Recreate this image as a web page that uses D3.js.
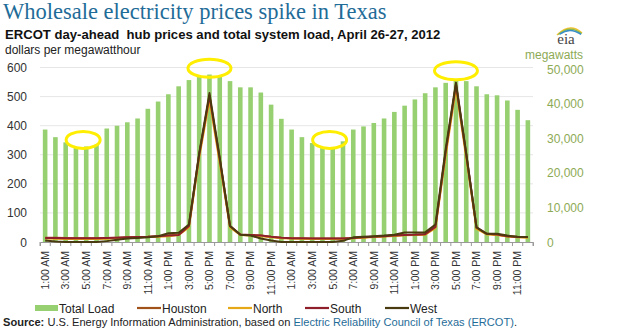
<!DOCTYPE html>
<html><head><meta charset="utf-8">
<script src="https://cdnjs.cloudflare.com/ajax/libs/d3/7.8.5/d3.min.js"></script>
<style>
html,body{margin:0;padding:0;background:#fff;}
svg{display:block;}
</style></head>
<body>
<svg id="c" width="635" height="331"></svg>
<script>
// ---- data ----
const dayHours = ["1:00 AM","2:00 AM","3:00 AM","4:00 AM","5:00 AM","6:00 AM","7:00 AM","8:00 AM","9:00 AM","10:00 AM","11:00 AM","12:00 PM",
  "1:00 PM","2:00 PM","3:00 PM","4:00 PM","5:00 PM","6:00 PM","7:00 PM","8:00 PM","9:00 PM","10:00 PM","11:00 PM","12:00 AM"];
const categories = dayHours.concat(dayHours).map((h,i)=> (i<24?"Apr 26 ":"Apr 27 ")+h);
const hourLabels = dayHours.concat(dayHours);
const totalLoad = [32500,30300,28800,27400,27600,28100,32800,33600,34600,35700,38500,40600,42700,45000,46800,47900,48400,47900,46500,44700,44700,43200,39700,35600,
  32500,30300,28600,27400,27200,29100,32500,33400,34400,35700,37600,39400,41200,43000,44700,46000,47000,46500,45000,42700,42400,40900,38200,35200];
const houston = [15,15,14,13,13,13,14,15,16,17,18,20,22,25,55,300,500,282,55,25,24,22,18,15,
  13,12,12,12,12,12,14,16,18,20,22,24,25,27,52,310,540,300,48,28,26,20,17,16];
const north = [12,11,10,10,10,10,11,13,15,16,17,18,20,24,50,290,488,272,50,24,22,20,16,13,
  12,11,10,10,10,10,13,15,17,19,21,23,24,25,48,298,528,290,45,26,24,19,16,15];
const south = [14,14,13,13,13,13,14,15,16,17,18,20,22,24,55,300,503,285,55,26,24,22,18,15,
  13,13,12,12,12,12,14,16,18,20,22,24,25,27,52,310,543,300,50,28,26,20,17,17];
const west = [5,2,0,0,0,0,3,8,12,14,16,20,30,32,60,305,512,290,55,25,22,12,5,0,
  0,0,0,0,0,4,16,18,20,22,25,33,33,33,60,320,548,305,50,28,28,22,18,17];
const priceTicks = [0,100,200,300,400,500,600];
const loadTicks = [0,10000,20000,30000,40000,50000];
const annotations = [{pos:3.7,load:29500},{pos:16,load:50200},{pos:27.7,load:29500},{pos:40,load:49500}];
const seriesNames = ["Houston","North","South","West"];
const seriesColors = ["#A0521A","#E6A817","#8E1F2B","#4A3A10"];

// ---- chart ----
const svg = d3.select("#c");
const L = 40, R = 533, T = 67.5, B = 242;
const x = d3.scaleBand().domain(categories).range([L,R]).paddingInner(0).paddingOuter(0);
const yP = d3.scaleLinear().domain([0,600]).range([B,T]);
const yL = d3.scaleLinear().domain([0,50000]).range([B,69]);
const xi = d3.scaleLinear().domain([0,47]).range([x(categories[0])+x.bandwidth()/2, x(categories[47])+x.bandwidth()/2]);
const font = "'Liberation Sans',Arial,sans-serif";

// title
svg.append("text").attr("x",3).attr("y",19).attr("font-family","'Liberation Serif','Times New Roman',serif")
  .attr("font-size",22.5).attr("fill","#1F6C98").text("Wholesale electricity prices spike in Texas");
svg.append("text").attr("x",5).attr("y",39).attr("font-family",font)
  .attr("font-size",13.1).attr("font-weight","bold").attr("fill","#111").attr("xml:space","preserve")
  .text("ERCOT day-ahead  hub prices and total system load, April 26-27, 2012");
svg.append("text").attr("x",5).attr("y",54).attr("font-family",font)
  .attr("font-size",12).attr("fill","#222").text("dollars per megawatthour");

// eia logo
const lg = svg.append("g");
[["#F2C12E",0],["#8DBB4C",2.3],["#3A8FC8",4.6]].forEach(([c,o])=>{
  lg.append("path").attr("d",`M${557+o*0.6},${35-o*0.2} Q${570},${22+o} ${582-o*0.2},${33+o*0.3}`)
    .attr("fill","none").attr("stroke",c).attr("stroke-width",1.5);
});
lg.append("text").attr("x",566).attr("y",44).attr("text-anchor","middle").attr("font-family","'Liberation Serif',serif")
  .attr("font-size",15).attr("fill","#444").text("eia");
svg.append("text").attr("x",583).attr("y",58.5).attr("text-anchor","end").attr("font-family",font)
  .attr("font-size",12).attr("fill","#8DAA55").text("megawatts");

// gridlines
svg.append("g").selectAll("line").data(priceTicks.filter(d=>d>0)).join("line")
  .attr("x1",L).attr("x2",R).attr("y1",d=>yP(d)).attr("y2",d=>yP(d))
  .attr("stroke","#e6e6e6").attr("stroke-width",1);

// left axis labels
svg.append("g").selectAll("text").data(priceTicks).join("text")
  .attr("x",27).attr("y",d=>yP(d)).attr("dy","0.38em").attr("text-anchor","end")
  .attr("font-family",font).attr("font-size",12).attr("fill","#333").text(d=>d);
// right axis labels
svg.append("g").selectAll("text").data(loadTicks).join("text")
  .attr("x",547).attr("y",d=>yL(d)).attr("dy","0.38em").attr("text-anchor","start")
  .attr("font-family",font).attr("font-size",12).attr("fill","#8DAA55").text(d=>d3.format(",")(d));

// bars
const bw = 4.6;
svg.append("g").selectAll("rect").data(totalLoad).join("rect")
  .attr("x",(d,i)=>x(categories[i])+x.bandwidth()/2-bw/2).attr("width",bw)
  .attr("y",d=>yL(d)).attr("height",d=>B-yL(d)).attr("fill","#97D070");

// x axis
const xAxis = d3.axisBottom(x).tickSize(4).tickFormat("");
const gx = svg.append("g").attr("transform",`translate(0,${B})`).call(xAxis);
gx.select(".domain").attr("stroke","#999");
gx.selectAll(".tick").remove();
const bounds = d3.range(49).map(i=> i<48 ? x(categories[i]) : R);
gx.selectAll("line.tk").data(bounds).join("line").attr("class","tk")
  .attr("x1",d=>d).attr("x2",d=>d).attr("y1",0).attr("y2",4).attr("stroke","#999");
svg.append("g").selectAll("text").data(categories.filter((c,i)=>i%2===0)).join("text")
  .attr("transform",d=>`translate(${x(d)+x.bandwidth()/2+3.8},251) rotate(-90)`)
  .attr("text-anchor","end").attr("font-family",font)
  .attr("font-size",10.5).attr("fill","#333").text(d=>hourLabels[categories.indexOf(d)]);

// lines
const line = d3.line().x((d,i)=>x(categories[i])+x.bandwidth()/2).y(d=>yP(d));
[houston,north,south,west].forEach((s,k)=>{
  svg.append("path").datum(s).attr("d",line).attr("fill","none")
    .attr("stroke",seriesColors[k]).attr("stroke-width",2).attr("stroke-linejoin","round");
});

// annotation ellipses
svg.append("g").selectAll("ellipse").data(annotations).join("ellipse")
  .attr("cx",d=>xi(d.pos)).attr("cy",d=>yL(d.load)).attr("rx",d=>d.load>40000?21.5:17).attr("ry",d=>d.load>40000?9:8.5)
  .attr("fill","none").attr("stroke","#FFEE00").attr("stroke-width",3);

// legend
const lgY = 308;
svg.append("rect").attr("x",35).attr("y",lgY-3).attr("width",23).attr("height",6).attr("fill","#97D070");
svg.append("text").attr("x",59).attr("y",lgY+4.5).attr("font-family",font).attr("font-size",12).attr("fill","#222").text("Total Load");
const legX = [137,228,305,385];
seriesNames.forEach((n,k)=>{
  svg.append("line").attr("x1",legX[k]).attr("x2",legX[k]+24).attr("y1",lgY).attr("y2",lgY)
    .attr("stroke",seriesColors[k]).attr("stroke-width",2.2);
  svg.append("text").attr("x",legX[k]+25).attr("y",lgY+4.5).attr("font-family",font).attr("font-size",12).attr("fill","#222").text(n);
});

// source
const src = svg.append("text").attr("x",3).attr("y",326).attr("font-family",font).attr("font-size",11.1).attr("fill","#222");
src.append("tspan").attr("font-weight","bold").text("Source:");
src.append("tspan").text(" U.S. Energy Information Administration, based on ");
src.append("tspan").attr("fill","#1F6C98").text("Electric Reliability Council of Texas (ERCOT)");
src.append("tspan").text(".");
</script>
</body></html>
